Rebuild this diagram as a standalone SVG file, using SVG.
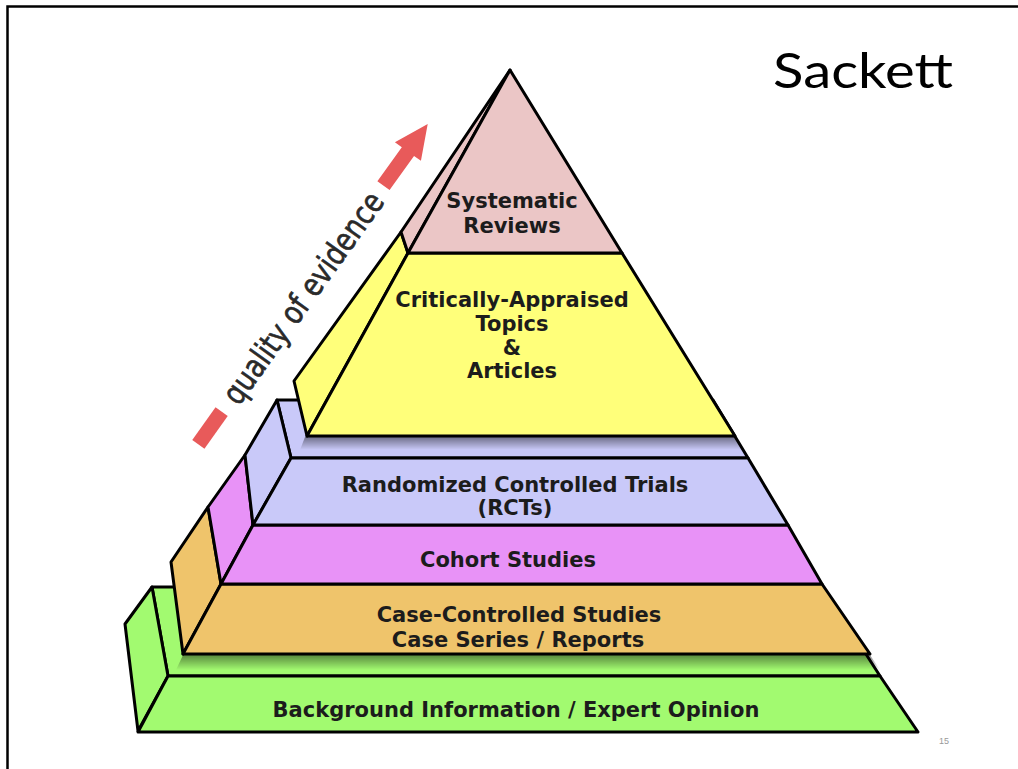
<svg xmlns="http://www.w3.org/2000/svg" width="1018" height="769" viewBox="0 0 1018 769">
<defs>
<style>
.f{stroke:#000;stroke-width:3;stroke-linejoin:round}
.pink{fill:#ebc6c6}
.yel{fill:#ffff7a}
.lav{fill:#c9c9f9}
.mag{fill:#e892f7}
.ora{fill:#efc46b}
.grn{fill:#a2fa70}
.lbl{font-family:"DejaVu Sans",Verdana,sans-serif;font-weight:bold;font-size:21px;fill:#1c1c1c;text-anchor:middle}
</style>
<linearGradient id="sh" x1="0" y1="0" x2="0" y2="1">
<stop offset="0" stop-color="#000" stop-opacity="0.45"/>
<stop offset="1" stop-color="#000" stop-opacity="0"/>
</linearGradient>
</defs>
<rect width="1018" height="769" fill="#fff"/>
<path d="M7.5 769 V6.5 H1018" fill="none" stroke="#000" stroke-width="2.5"/>
<text x="863" y="88" font-family="Lato,'Open Sans',sans-serif" font-size="48" text-anchor="middle" fill="#000" textLength="180" lengthAdjust="spacingAndGlyphs">Sackett</text>
<text x="944" y="744" font-family="'Liberation Sans',sans-serif" font-size="9" fill="#999" text-anchor="middle">15</text>

<g id="background">
<polygon class="f grn" points="152,587 823,587 880,676 168,676"/>
<polygon fill="url(#sh)" points="183,655 870,655 880,670 176,670"/>
<polygon class="f grn" points="152,587 168,676 138,731 125,624"/>
<polygon class="f grn" points="168,676 880,676 918,732 138,732"/>
<text class="lbl" x="516" y="717">Background Information / Expert Opinion</text>
</g>

<g id="case-controlled">
<polygon class="f ora" points="208,507 221,584 183,654 171,562"/>
<polygon class="f ora" points="221,584 822,584 870,654 183,654"/>
<text class="lbl" x="519" y="622">Case-Controlled Studies</text>
<text class="lbl" x="518" y="647">Case Series / Reports</text>
</g>

<g id="cohort">
<polygon class="f mag" points="245,455 253,525 221,584 208,507"/>
<polygon class="f mag" points="253,525 788,525 822,584 221,584"/>
<text class="lbl" x="508" y="567">Cohort Studies</text>
</g>

<g id="rcts">
<polygon class="f lav" points="277,400 713,400 748,458 291,458"/>
<polygon fill="url(#sh)" points="305,437 735,437 742,450 300,450"/>
<polygon class="f lav" points="277,400 291,458 253,525 245,455"/>
<polygon class="f lav" points="291,458 748,458 788,525 253,525"/>
<text class="lbl" x="515" y="492">Randomized Controlled Trials</text>
<text class="lbl" x="515" y="515">(RCTs)</text>
</g>

<g id="critically-appraised">
<polygon class="f yel" points="401,232 408,253 307,436 294,381"/>
<polygon class="f yel" points="408,253 622,253 735,436 307,436"/>
<text class="lbl" x="512" y="307">Critically-Appraised</text>
<text class="lbl" x="512" y="331">Topics</text>
<text class="lbl" x="512" y="355" font-size="9">&amp;</text>
<text class="lbl" x="512" y="378">Articles</text>
</g>

<g id="systematic-reviews">
<polygon class="f pink" points="510,70 401,232 408,253"/>
<polygon class="f pink" points="510,70 622,253 408,253"/>
<text class="lbl" x="512" y="208">Systematic</text>
<text class="lbl" x="512" y="233">Reviews</text>
</g>

<g id="quality-arrow" transform="translate(210,428) rotate(-54.4)">
<rect x="-20" y="-7.5" width="40" height="15" fill="#e85a5a"/>
<text x="160" y="0" dominant-baseline="central" text-anchor="middle" font-family="'DejaVu Sans',Verdana,sans-serif" font-size="32" fill="#2a2a2a" stroke="#2a2a2a" stroke-width="0.7" textLength="252" lengthAdjust="spacingAndGlyphs">quality of evidence</text>
<polygon fill="#e85a5a" points="298,-7.5 340,-7.5 340,-16 374,0 340,16 340,7.5 298,7.5"/>
</g>
</svg>
